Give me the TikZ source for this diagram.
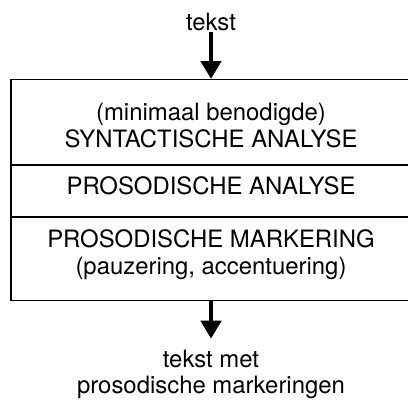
\documentclass[tikz,border=0pt]{standalone}
\usepackage{fontspec}
\setmainfont{TeX Gyre Heros}
\usetikzlibrary{arrows.meta, positioning}
\tikzset{
    lbl/.style={font=\fontsize{17}{18.5}\selectfont, align=center, inner sep=1pt, anchor=base},
    section/.style={rectangle, draw, line width=0.8pt, minimum width=10cm, inner sep=0pt},
    flow/.style={-{Triangle[length=0.45cm, width=0.5cm]}, line width=3.4pt},
}

\begin{document}
\begin{tikzpicture}
\useasboundingbox (0,0) rectangle (10.2,9.975);

% ── Sections of the box (stacked) ──
\node[section, minimum height=2.125cm, anchor=north] (syn) at (5.275, 8.0) {};
\node[section, minimum height=1.275cm, below=0pt of syn] (pana) {};
\node[section, minimum height=2.075cm, below=0pt of pana] (pmark) {};

% ── Texts (base = last line) ──
\node[lbl] (in) at (5.275, 9.225) {tekst};
\node[lbl] (syntxt) at (5.275, 6.3) {(minimaal benodigde)\\SYNTACTISCHE ANALYSE};
\node[lbl] (panatxt) at (5.275, 5.125) {PROSODISCHE ANALYSE};
\node[lbl] (pmarktxt) at (5.275, 3.125) {PROSODISCHE MARKERING\\(pauzering, accentuering)};
\node[lbl] (out) at (5.275, 0.15) {tekst met\\prosodische markeringen};

% ── In and out ──
\draw[flow] (in.south) -- (syn.north);
\draw[flow, shorten >=0.23cm] (pmark.south) -- (out.north);

\end{tikzpicture}
\end{document}
